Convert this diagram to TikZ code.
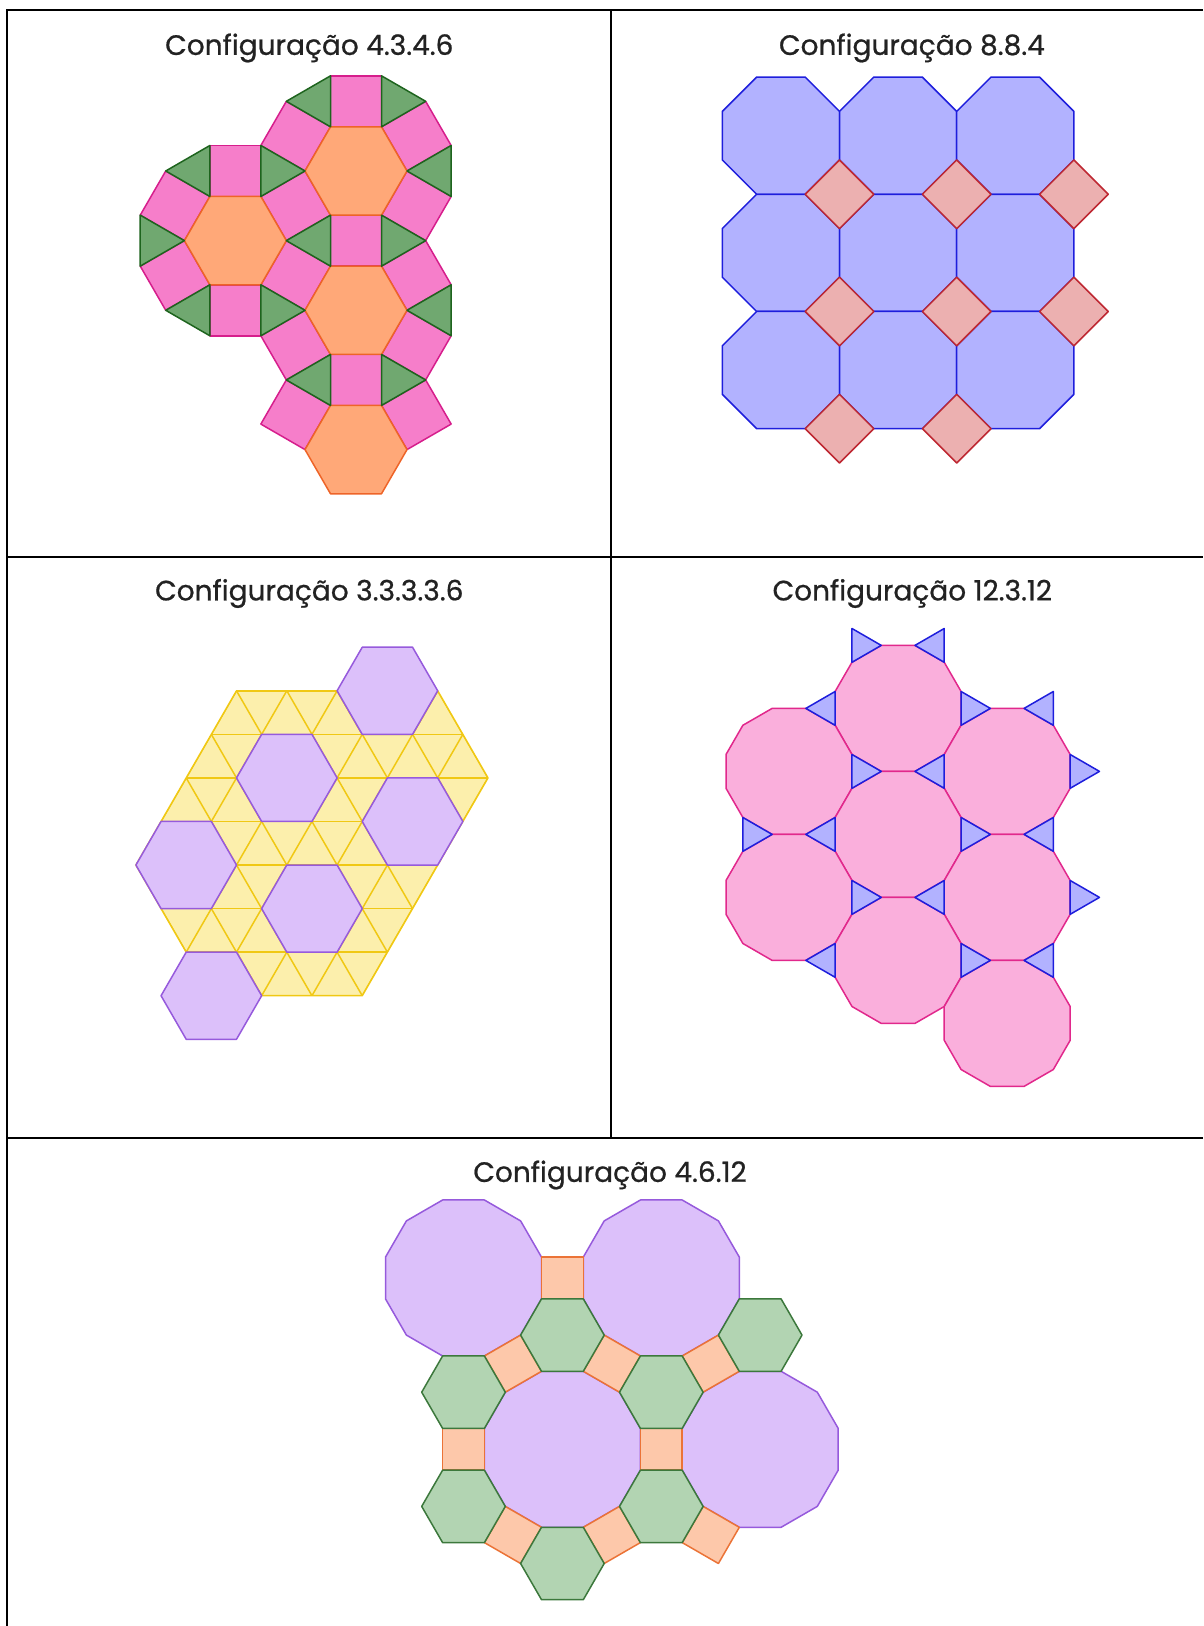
\documentclass[tikz,border=0pt]{standalone}
\usepackage{fontspec}
\setmainfont{Poppins}
\newfontfamily\titlefont{Poppins}[FakeBold=0.7]

\definecolor{inkgray}{RGB}{34,34,34}
\definecolor{pinkfill}{RGB}{246,126,202}
\definecolor{pinkline}{RGB}{214,30,140}
\definecolor{orangefill}{RGB}{255,168,120}
\definecolor{orangeline}{RGB}{238,100,40}
\definecolor{greenfill}{RGB}{112,168,112}
\definecolor{greenline}{RGB}{30,100,30}
\definecolor{bluefill}{RGB}{178,178,255}
\definecolor{blueline}{RGB}{30,30,220}
\definecolor{rosefill}{RGB}{236,176,176}
\definecolor{roseline}{RGB}{190,40,50}
\definecolor{yellowfill}{RGB}{252,239,172}
\definecolor{yellowline}{RGB}{240,200,20}
\definecolor{lilacfill}{RGB}{220,192,250}
\definecolor{lilacline}{RGB}{150,90,220}
\definecolor{candyfill}{RGB}{250,175,220}
\definecolor{candyline}{RGB}{225,40,140}
\definecolor{peachfill}{RGB}{253,200,170}
\definecolor{peachline}{RGB}{235,115,55}
\definecolor{sagefill}{RGB}{178,212,178}
\definecolor{sageline}{RGB}{60,120,60}

% regular tile: style, centre, offset angle, offset, sides, radius, first corner
\newcommand{\piece}[7]{\filldraw[#1,shift={(#2)},shift={(#3:#4)}] (#7:#6)
  \foreach \k [evaluate=\k as \ang using #7+(\k-1)*360/#5] in {2,...,#5} {-- (\ang:#6)} -- cycle;}

\begin{document}
\begin{tikzpicture}[x=1pt,y=1pt,
  rule/.style={line width=2.6pt,black},
  title/.style={text=inkgray,font=\titlefont\fontsize{28}{32}\selectfont},
  sqpink/.style={fill=pinkfill,draw=pinkline,line width=1.5pt,line join=round},
  hexorange/.style={fill=orangefill,draw=orangeline,line width=1.5pt,line join=round},
  trigreen/.style={fill=greenfill,draw=greenline,line width=1.5pt,line join=round},
  octblue/.style={fill=bluefill,draw=blueline,line width=1.5pt,line join=round},
  diarose/.style={fill=rosefill,draw=roseline,line width=1.5pt,line join=round},
  hexlilac/.style={fill=lilacfill,draw=lilacline,line width=1.5pt,line join=round},
  dodcandy/.style={fill=candyfill,draw=candyline,line width=1.5pt,line join=round},
  triblue/.style={fill=bluefill,draw=blueline,line width=1.5pt,line join=round},
  dodlilac/.style={fill=lilacfill,draw=lilacline,line width=1.5pt,line join=round},
  sqpeach/.style={fill=peachfill,draw=peachline,line width=1.5pt,line join=round},
  hexsage/.style={fill=sagefill,draw=sageline,line width=1.5pt,line join=round}]
\useasboundingbox (0,0) rectangle (1203,1626);

% table
\draw[rule] (7,0) -- (7,1616) -- (1203,1616);
\draw[rule] (611,1616) -- (611,488);
\draw[rule] (7,1069) -- (1203,1069);
\draw[rule] (7,488) -- (1203,488);

\node[title] (t1) at (309.3,1578) {Configuração 4.3.4.6};
\node[title] (t2) at (911.9,1578) {Configuração 8.8.4};
\node[title] (t3) at (309.3,1032.5) {Configuração 3.3.3.3.6};
\node[title] (t4) at (912.3,1032.5) {Configuração 12.3.12};
\node[title] (t5) at (610,451) {Configuração 4.6.12};

% 4.3.4.6
\foreach \d in {90,30,330,270,210,150} {\piece{sqpink}{356,1455}{\d}{69.66}{4}{36.06}{\d+45}}
\foreach \d in {90,330,270,210,150} {\piece{sqpink}{235.4,1385.35}{\d}{69.66}{4}{36.06}{\d+45}}
\foreach \d in {30,330,270,210} {\piece{sqpink}{356,1315.7}{\d}{69.66}{4}{36.06}{\d+45}}
\foreach \d in {30,150} {\piece{sqpink}{356,1176.4}{\d}{69.66}{4}{36.06}{\d+45}}
\foreach \c in {{356,1455},{235.4,1385.35},{356,1315.7},{356,1176.4}} {\piece{hexorange}{\c}{0}{0}{6}{51}{0}}
\foreach \d in {0,60,120,180,240,300} {\piece{trigreen}{356,1455}{\d}{80.44}{3}{29.44}{\d+60}}
\foreach \d in {120,180,240,300} {\piece{trigreen}{235.4,1385.35}{\d}{80.44}{3}{29.44}{\d+60}}
\foreach \d in {0,240,300} {\piece{trigreen}{356,1315.7}{\d}{80.44}{3}{29.44}{\d+60}}

% 8.8.4
\foreach \i in {0,1,2} {
  \foreach \j in {0,1,2} {\piece{octblue}{780.9+117.2*\i,1490.3-117.2*\j}{0}{0}{8}{63.43}{22.5}}}
\foreach \c in {{839.5,1431.7},{956.7,1431.7},{1073.9,1431.7},{839.5,1314.5},{956.7,1314.5},{1073.9,1314.5},{839.5,1197.3},{956.7,1197.3}}
  {\piece{diarose}{\c}{0}{0}{4}{34.33}{0}}

% 3.3.3.3.6
\begin{scope}[shift={(236.5,935.2)},x={(50.3pt,0pt)},y={(-25.15pt,-43.56pt)}]
\begin{scope}
\clip (0,0) -- (2,0) -- (3,1) -- (4,1) -- (4,0) -- (5,1) -- (6,2) -- (6,3) -- (6,4) -- (6,7) -- (4,7) -- (3,6) -- (2,6) -- (1,5) -- (0,4) -- (0,3) -- cycle;
\fill[yellowfill] (-3,-3) rectangle (12,10);
\foreach \k in {0,...,7} {\draw[yellowline,line width=1.5pt] (-3,\k) -- (12,\k);}
\foreach \j in {-2,...,8} {\draw[yellowline,line width=1.5pt] (\j,-2) -- (\j,9);}
\foreach \m in {-9,...,9} {\draw[yellowline,line width=1.5pt] (\m-2,-2) -- (\m+9,9);}
\end{scope}
\draw[yellowline,line width=1.5pt,line join=round] (0,0) -- (2,0) -- (3,1) -- (4,1) -- (4,0) -- (5,1) -- (6,2) -- (6,3) -- (6,4) -- (6,7) -- (4,7) -- (3,6) -- (2,6) -- (1,5) -- (0,4) -- (0,3) -- cycle;
\foreach \j/\k in {3/0,2/2,5/3,1/4,4/5,3/7}
  {\filldraw[hexlilac] (\j+1,\k) -- (\j,\k-1) -- (\j-1,\k-1) -- (\j-1,\k) -- (\j,\k+1) -- (\j+1,\k+1) -- cycle;}
\end{scope}

% 12.3.12
\foreach \c in {{898.1,917.6},{789,854.6},{1007.2,854.6},{898.1,791.6},{789,728.6},{1007.2,728.6},{898.1,665.6},{1007.2,602.6}}
  {\piece{dodcandy}{\c}{0}{0}{12}{65.22}{15}}
\foreach \c/\d in {{898.1,917.6}/120,{898.1,917.6}/60,{898.1,917.6}/180,{898.1,917.6}/0,
  {1007.2,854.6}/60,{1007.2,854.6}/0,{789,854.6}/240,
  {898.1,791.6}/120,{898.1,791.6}/60,{898.1,791.6}/180,{898.1,791.6}/0,{898.1,791.6}/240,{898.1,791.6}/300,
  {1007.2,728.6}/60,{1007.2,728.6}/0,{898.1,665.6}/180,{898.1,665.6}/0,{1007.2,602.6}/60}
  {\piece{triblue}{\c}{\d}{72.75}{3}{19.51}{\d}}

% 4.6.12
\foreach \c in {{463.5,348},{661.3,348},{562.4,176.7},{760.2,176.7}}
  {\piece{dodlilac}{\c}{0}{0}{12}{80.75}{15}}
\foreach \c/\d in {{463.5,348}/0,{463.5,348}/300,{661.3,348}/240,{661.3,348}/300,
  {562.4,176.7}/180,{562.4,176.7}/0,{562.4,176.7}/240,{562.4,176.7}/300,{760.2,176.7}/240}
  {\piece{sqpeach}{\c}{\d}{98.9}{4}{29.56}{\d+45}}
\foreach \c/\d in {{463.5,348}/330,{661.3,348}/330,{463.5,348}/270,{661.3,348}/270,
  {562.4,176.7}/210,{562.4,176.7}/330,{562.4,176.7}/270}
  {\piece{hexsage}{\c}{\d}{114.2}{6}{41.8}{0}}
\end{tikzpicture}
\end{document}
